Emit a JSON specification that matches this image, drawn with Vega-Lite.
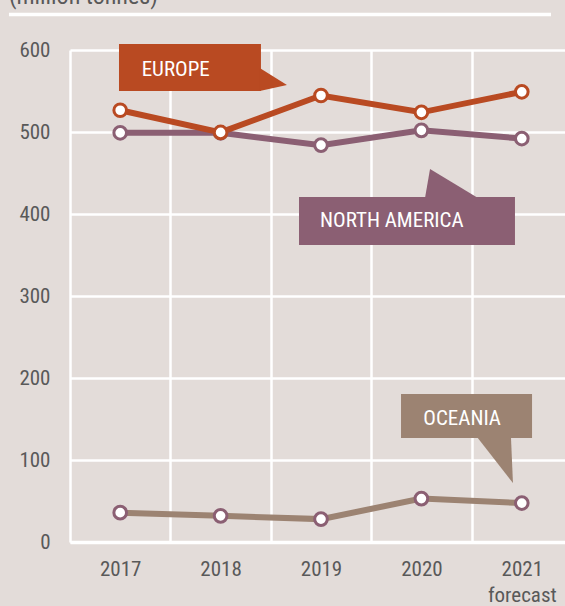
{
  "$schema": "https://vega.github.io/schema/vega-lite/v6.json",
  "width": 502,
  "height": 492,
  "autosize": "none",
  "padding": {"left": 70, "top": 50, "right": 0, "bottom": 64},
  "background": "#e3dcd9",
  "config": {
    "view": {"stroke": null},
    "font": "Liberation Sans Narrow, Arial Narrow, Roboto Condensed, Liberation Sans, sans-serif"
  },
  "datasets": {
    "production": [
      {"region": "Oceania", "year": "2017", "value": 35.8},
      {"region": "Oceania", "year": "2018", "value": 31.9},
      {"region": "Oceania", "year": "2019", "value": 27.9},
      {"region": "Oceania", "year": "2020", "value": 52.9},
      {"region": "Oceania", "year": "2021", "value": 47.5},
      {"region": "North America", "year": "2017", "value": 499},
      {"region": "North America", "year": "2018", "value": 499},
      {"region": "North America", "year": "2019", "value": 484},
      {"region": "North America", "year": "2020", "value": 502},
      {"region": "North America", "year": "2021", "value": 492},
      {"region": "Europe", "year": "2017", "value": 526.5},
      {"region": "Europe", "year": "2018", "value": 499.5},
      {"region": "Europe", "year": "2019", "value": 544.5},
      {"region": "Europe", "year": "2020", "value": 524},
      {"region": "Europe", "year": "2021", "value": 549}
    ],
    "boxes": [
      {"region": "Europe", "label": "EUROPE", "x1": -0.012, "x2": 1.402, "y1": 607.3, "y2": 550.0, "tx": 0.214, "ty": 576.2},
      {"region": "North America", "label": "NORTH AMERICA", "x1": 1.781, "x2": 3.932, "y1": 420.7, "y2": 362.2, "tx": 1.99, "ty": 390.9},
      {"region": "Oceania", "label": "OCEANIA", "x1": 2.797, "x2": 4.102, "y1": 180.5, "y2": 126.8, "tx": 3.019, "ty": 150.4}
    ],
    "tails": [
      {"region": "Europe", "x": 1.39, "top": 578.0, "bottom": 550.0},
      {"region": "Europe", "x": 1.661, "top": 557.3, "bottom": 557.3},
      {"region": "North America", "x": 3.036, "top": 419.5, "bottom": 419.5},
      {"region": "North America", "x": 3.086, "top": 454.9, "bottom": 419.5},
      {"region": "North America", "x": 3.564, "top": 419.5, "bottom": 419.5},
      {"region": "Oceania", "x": 3.554, "top": 128, "bottom": 128},
      {"region": "Oceania", "x": 3.892, "top": 128, "bottom": 75.0},
      {"region": "Oceania", "x": 3.912, "top": 72.0, "bottom": 72.0}
    ],
    "furniture": [
      {"label": "(million tonnes)", "x1": -1.108, "x2": 4.291, "ty": 656.1, "ry": 643.3}
    ]
  },
  "resolve": {"scale": {"x": "independent", "y": "independent"}},
  "layer": [
    {
      "data": {"name": "production"},
      "encoding": {
        "x": {
          "field": "year",
          "type": "ordinal",
          "scale": {"paddingInner": 0, "paddingOuter": 0},
          "axis": {
            "title": null,
            "labelAngle": 0,
            "labelFontSize": 21,
            "labelColor": "#595959",
            "labelPadding": 16,
            "labelBaseline": "top",
            "labelLineHeight": 26,
            "labelExpr": "datum.value == '2021' ? ['2021', 'forecast'] : datum.value",
            "tickBand": "extent",
            "ticks": false,
            "grid": true,
            "gridColor": "#ffffff",
            "gridWidth": 2.5,
            "domain": true,
            "domainColor": "#ffffff",
            "domainWidth": 3.5
          }
        },
        "y": {
          "field": "value",
          "type": "quantitative",
          "scale": {"domain": [0, 600], "nice": false},
          "axis": {
            "title": null,
            "values": [0, 100, 200, 300, 400, 500, 600],
            "labelFontSize": 21,
            "labelColor": "#595959",
            "labelPadding": 20,
            "ticks": false,
            "domain": false,
            "grid": true,
            "gridColor": "#ffffff",
            "gridWidth": 2.5
          }
        }
      },
      "layer": [
        {
          "mark": {"type": "line", "strokeWidth": 6},
          "encoding": {
            "color": {
              "field": "region",
              "type": "nominal",
              "scale": {"domain": ["Europe", "North America", "Oceania"], "range": ["#b94a22", "#8b5f73", "#9c8372"]},
              "legend": null
            },
            "order": {"field": "year"}
          }
        },
        {
          "mark": {"type": "point", "filled": true, "fill": "#ffffff", "size": 160, "strokeWidth": 3, "opacity": 1},
          "encoding": {
            "stroke": {
              "field": "region",
              "type": "nominal",
              "scale": {"domain": ["Europe", "North America", "Oceania"], "range": ["#b94a22", "#8b5f73", "#8b5f73"]},
              "legend": null
            }
          }
        }
      ]
    },
    {
      "layer": [
        {
          "data": {"name": "boxes"},
          "mark": {"type": "rect"},
          "encoding": {
            "x": {"field": "x1", "type": "quantitative", "scale": {"domain": [-0.5, 4.5], "nice": false, "zero": false}, "axis": null},
            "x2": {"field": "x2"},
            "y": {"field": "y1", "type": "quantitative", "scale": {"domain": [0, 600], "nice": false}, "axis": null},
            "y2": {"field": "y2"},
            "color": {"field": "region", "type": "nominal", "legend": null}
          }
        },
        {
          "data": {"name": "tails"},
          "mark": {"type": "area", "orient": "vertical", "opacity": 1},
          "encoding": {
            "x": {"field": "x", "type": "quantitative", "scale": {"domain": [-0.5, 4.5], "nice": false, "zero": false}, "axis": null},
            "y": {"field": "top", "type": "quantitative", "scale": {"domain": [0, 600], "nice": false}, "axis": null},
            "y2": {"field": "bottom"},
            "color": {"field": "region", "type": "nominal", "legend": null},
            "detail": {"field": "region"}
          }
        },
        {
          "data": {"name": "boxes"},
          "mark": {"type": "text", "align": "left", "baseline": "middle", "fontSize": 21, "color": "#ffffff"},
          "encoding": {
            "x": {"field": "tx", "type": "quantitative", "scale": {"domain": [-0.5, 4.5], "nice": false, "zero": false}, "axis": null},
            "y": {"field": "ty", "type": "quantitative", "scale": {"domain": [0, 600], "nice": false}, "axis": null},
            "text": {"field": "label"}
          }
        },
        {
          "data": {"name": "furniture"},
          "mark": {"type": "rule", "color": "#ffffff", "strokeWidth": 3.5},
          "encoding": {
            "x": {"field": "x1", "type": "quantitative", "scale": {"domain": [-0.5, 4.5], "nice": false, "zero": false}, "axis": null},
            "x2": {"field": "x2"},
            "y": {"field": "ry", "type": "quantitative", "scale": {"domain": [0, 600], "nice": false}, "axis": null}
          }
        },
        {
          "data": {"name": "furniture"},
          "mark": {"type": "text", "align": "left", "baseline": "alphabetic", "fontSize": 24, "color": "#595959"},
          "encoding": {
            "x": {"field": "x1", "type": "quantitative", "scale": {"domain": [-0.5, 4.5], "nice": false, "zero": false}, "axis": null},
            "y": {"field": "ty", "type": "quantitative", "scale": {"domain": [0, 600], "nice": false}, "axis": null},
            "text": {"field": "label"}
          }
        }
      ]
    }
  ]
}
